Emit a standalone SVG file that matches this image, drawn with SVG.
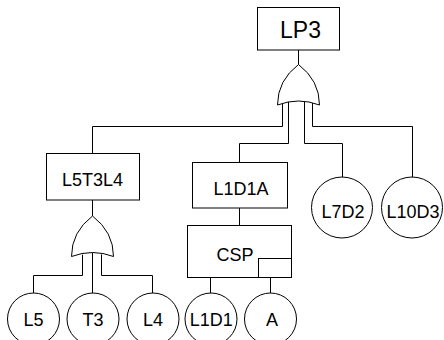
<svg xmlns="http://www.w3.org/2000/svg" xmlns:xlink="http://www.w3.org/1999/xlink" width="444" height="340" viewBox="0 0 444 340">
<style>
.box{fill:#fff;stroke:#000;stroke-width:1}
.ev{fill:#fff;stroke:#000;stroke-width:1}
.gate{fill:#fff;stroke:#000;stroke-width:1}
.ln{fill:none;stroke:#000;stroke-width:1}
text{font-family:"Liberation Sans",Arial,sans-serif;font-size:18px;fill:#000;text-anchor:middle}
</style>
<defs>
<path id="orgate" d="M0,0 Q-21,16 -21,40.5 Q0,32.5 21,40.5 Q21,16 0,0 Z"/>
</defs>
<g id="connectors">
<path class="ln" d="M298.5,50 V64.5"/>
<path class="ln" d="M282.5,103.2 V126.5 H92.5 V153"/>
<path class="ln" d="M288.5,101.8 V143.5 H239.5 V162"/>
<path class="ln" d="M304.5,101.4 V143.5 H342.5 V177"/>
<path class="ln" d="M312.5,102.9 V126.5 H412.5 V177"/>
<path class="ln" d="M92.5,200 V216"/>
<path class="ln" d="M82.5,254.7 V275.5 H33.5 V293"/>
<path class="ln" d="M92.5,252.5 V293"/>
<path class="ln" d="M101.5,254.4 V275.5 H152.5 V293"/>
<path class="ln" d="M239.5,208 V225"/>
<path class="ln" d="M210.5,277 V293"/>
<path class="ln" d="M270.5,277 V293"/>
</g>
<g id="LP3">
<rect class="box" x="257.5" y="7.5" width="82" height="42.5"/>
<text x="300.5" y="37.5" style="font-size:23px">LP3</text>
</g>
<g id="gate-LP3">
<use href="#orgate" class="gate" x="298.5" y="64.5"/>
</g>
<g id="L5T3L4">
<rect class="box" x="46.5" y="153.5" width="93" height="46.5"/>
<text x="92.5" y="186">L5T3L4</text>
</g>
<g id="gate-L5T3L4">
<use href="#orgate" class="gate" x="92.5" y="216"/>
</g>
<g id="L1D1A">
<rect class="box" x="192.5" y="162.5" width="95" height="45.5"/>
<text x="241" y="195">L1D1A</text>
</g>
<g id="CSP">
<rect class="box" x="187.5" y="225.5" width="104" height="52"/>
<rect class="box" x="258.5" y="258.5" width="33" height="19"/>
<text x="235" y="261">CSP</text>
</g>
<g id="L7D2">
<circle class="ev" cx="342" cy="207.5" r="30.5"/>
<text x="343" y="218">L7D2</text>
</g>
<g id="L10D3">
<circle class="ev" cx="412" cy="207.5" r="30.5"/>
<text x="413" y="218">L10D3</text>
</g>
<g id="L5">
<circle class="ev" cx="33.5" cy="319" r="26"/>
<text x="33.5" y="326">L5</text>
</g>
<g id="T3">
<circle class="ev" cx="93" cy="319" r="26"/>
<text x="93" y="326">T3</text>
</g>
<g id="L4">
<circle class="ev" cx="153" cy="319" r="26"/>
<text x="153" y="326">L4</text>
</g>
<g id="L1D1">
<circle class="ev" cx="211" cy="319" r="26"/>
<text x="211.3" y="326">L1D1</text>
</g>
<g id="A">
<circle class="ev" cx="270.5" cy="319" r="26"/>
<text x="272" y="326">A</text>
</g>
</svg>
